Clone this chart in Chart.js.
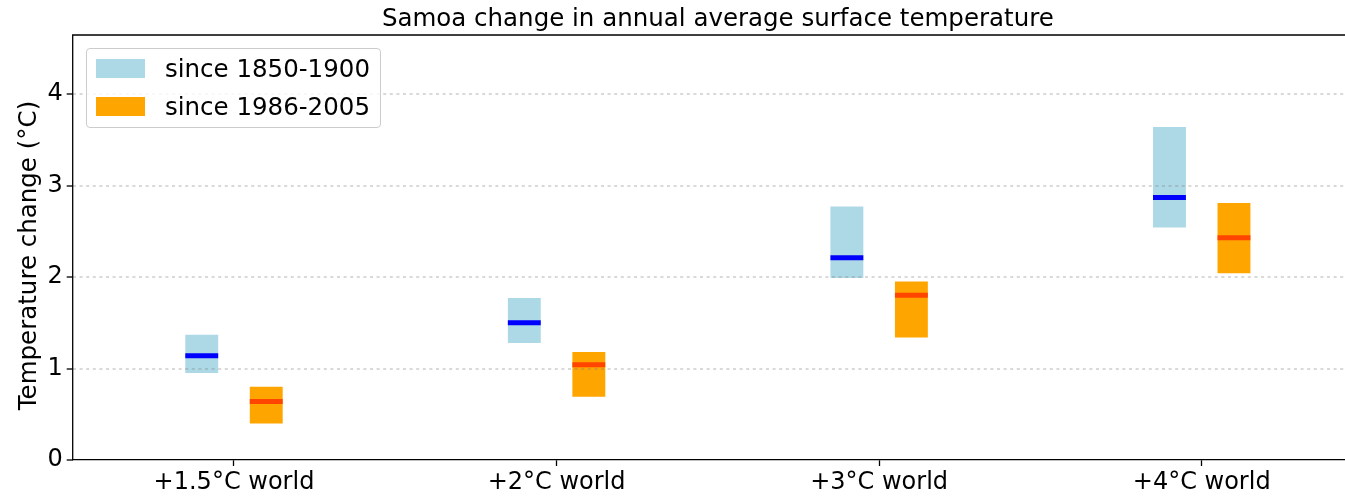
<!DOCTYPE html>
<html>
<head>
<meta charset="utf-8">
<title>Samoa change in annual average surface temperature</title>
<script src="https://cdn.jsdelivr.net/npm/chart.js@4.4.1/dist/chart.umd.min.js"></script>
<style>
  html, body { margin: 0; padding: 0; background: #fff; overflow: hidden; }
  #wrap { position: relative; width: 1363px; height: 498px; }
  #legend {
    position: absolute; left: 86px; top: 48px; width: 293px; height: 78px;
    border: 1px solid #cccccc; border-radius: 4px; background: rgba(255,255,255,0.8);
    font-family: 'DejaVu Sans', sans-serif; font-size: 24.5px; color: #000;
  }
  #legend .item { position: absolute; left: 9px; height: 19px; line-height: 19px; white-space: nowrap; }
  #legend .swatch { position: absolute; left: 0; top: 0; width: 49px; height: 19px; }
  #legend .label { position: absolute; left: 69px; top: 0; }
</style>
</head>
<body>
<div id="wrap">
  <canvas id="chart" width="1363" height="498"></canvas>
  <div id="legend"></div>
</div>
<script>
// Warming levels on the x axis
const categories = ['+1.5°C world', '+2°C world', '+3°C world', '+4°C world'];
const seriesLabels = ['since 1850-1900', 'since 1986-2005'];

// Change relative to 1850-1900: range and median (°C)
const preLow    = [0.95, 1.28, 1.99, 2.54];
const preHigh   = [1.37, 1.77, 2.77, 3.64];
const preMedian = [1.14, 1.50, 2.21, 2.87];

// Change relative to 1986-2005: range and median (°C)
const recentLow    = [0.40, 0.69, 1.34, 2.04];
const recentHigh   = [0.80, 1.18, 1.95, 2.81];
const recentMedian = [0.64, 1.04, 1.80, 2.43];

// Y axis ticks and label
const yTicks = [0, 1, 2, 3, 4];
const yMax = 4.645;
const yLabel = 'Temperature change (°C)';

const FONT = "'DejaVu Sans', sans-serif";
const gridColor = 'rgba(120,120,120,0.28)';

// Floating range bars: [low, high] per category
const toRanges = (lo, hi) => lo.map((v, i) => [v, hi[i]]);

// Horizontal median marker across each range bar
const medianLines = {
  id: 'medianLines',
  afterDatasetsDraw(chart) {
    const { ctx } = chart;
    const y = chart.scales.y;
    chart.data.datasets.forEach((ds, di) => {
      const meta = chart.getDatasetMeta(di);
      meta.data.forEach((bar, i) => {
        const { x, width } = bar.getProps(['x', 'width'], true);
        const py = y.getPixelForValue(ds.medians[i]);
        ctx.save();
        ctx.strokeStyle = ds.medianColor;
        ctx.lineWidth = 5;
        ctx.beginPath();
        ctx.moveTo(x - width / 2, py);
        ctx.lineTo(x + width / 2, py);
        ctx.stroke();
        ctx.restore();
      });
    });
  }
};

// Left and top frame lines of the plot area and the rotated y-axis label
const frame = {
  id: 'frame',
  afterDraw(chart) {
    const { ctx, chartArea: a } = chart;
    ctx.save();
    ctx.strokeStyle = '#000';
    ctx.lineWidth = 1.3;
    ctx.setLineDash([]);
    ctx.beginPath();
    ctx.moveTo(a.left, a.bottom);
    ctx.lineTo(a.left, a.top);
    ctx.lineTo(a.right, a.top);
    ctx.stroke();
    ctx.restore();

    ctx.save();
    ctx.translate(36, (a.top + a.bottom) / 2 + 8);
    ctx.rotate(-Math.PI / 2);
    ctx.font = "24.5px " + FONT;
    ctx.fillStyle = '#000';
    ctx.textAlign = 'center';
    ctx.textBaseline = 'alphabetic';
    ctx.fillText(yLabel, 0, 0);
    ctx.restore();
  }
};

// HTML legend built from the datasets
const htmlLegend = {
  id: 'htmlLegend',
  afterUpdate(chart) {
    const box = document.getElementById('legend');
    box.innerHTML = '';
    chart.data.datasets.forEach((ds, i) => {
      const item = document.createElement('div');
      item.className = 'item';
      item.style.top = (10 + i * 38) + 'px';
      const sw = document.createElement('span');
      sw.className = 'swatch';
      sw.style.background = ds.backgroundColor;
      const lbl = document.createElement('span');
      lbl.className = 'label';
      lbl.textContent = ds.label;
      item.appendChild(sw);
      item.appendChild(lbl);
      box.appendChild(item);
    });
  }
};

new Chart(document.getElementById('chart'), {
  type: 'bar',
  data: {
    labels: categories,
    datasets: [
      {
        label: seriesLabels[0],
        data: toRanges(preLow, preHigh),
        medians: preMedian,
        medianColor: '#0000ff',
        backgroundColor: '#add8e6',
        borderWidth: 0,
        categoryPercentage: 0.4,
        barPercentage: 0.51
      },
      {
        label: seriesLabels[1],
        data: toRanges(recentLow, recentHigh),
        medians: recentMedian,
        medianColor: '#ff4500',
        backgroundColor: '#ffa500',
        borderWidth: 0,
        categoryPercentage: 0.4,
        barPercentage: 0.51
      }
    ]
  },
  options: {
    responsive: false,
    devicePixelRatio: 1,
    animation: false,
    layout: { padding: { left: 0 } },
    plugins: {
      legend: { display: false },
      tooltip: { enabled: false },
      title: {
        display: true,
        fullSize: false,
        text: 'Samoa change in annual average surface temperature',
        color: '#000',
        font: { family: FONT, size: 24.5, weight: 'normal', lineHeight: 1.2 },
        padding: { top: 4.6, bottom: 1.0 }
      }
    },
    scales: {
      x: {
        type: 'category',
        offset: true,
        grid: {
          display: true,
          offset: false,
          drawOnChartArea: false,
          drawTicks: true,
          tickLength: 6,
          tickColor: '#000',
          tickWidth: 1.3
        },
        border: { display: true, color: '#000', width: 1.3 },
        ticks: {
          color: '#000',
          font: { family: FONT, size: 24 },
          padding: 2,
          maxRotation: 0,
          autoSkip: false
        },
        afterFit(scale) { scale.height = 38; }
      },
      y: {
        min: 0,
        max: yMax,
        afterBuildTicks(scale) { scale.ticks = yTicks.map(v => ({ value: v })); },
        grid: {
          z: 1,
          color: (c) => (c.tick && c.tick.value === 0) ? 'rgba(0,0,0,0)' : gridColor,
          lineWidth: 2,
          drawTicks: true,
          tickLength: 6,
          tickColor: '#000',
          tickWidth: 1.3,
          tickBorderDash: []
        },
        border: { display: false, dash: [3, 3.6] },
        ticks: {
          color: '#000',
          font: { family: FONT, size: 24 },
          padding: 4
        },
        title: { display: false },
        afterFit(scale) { scale.width = 72.7; }
      }
    }
  },
  plugins: [medianLines, frame, htmlLegend]
});
</script>
</body>
</html>
